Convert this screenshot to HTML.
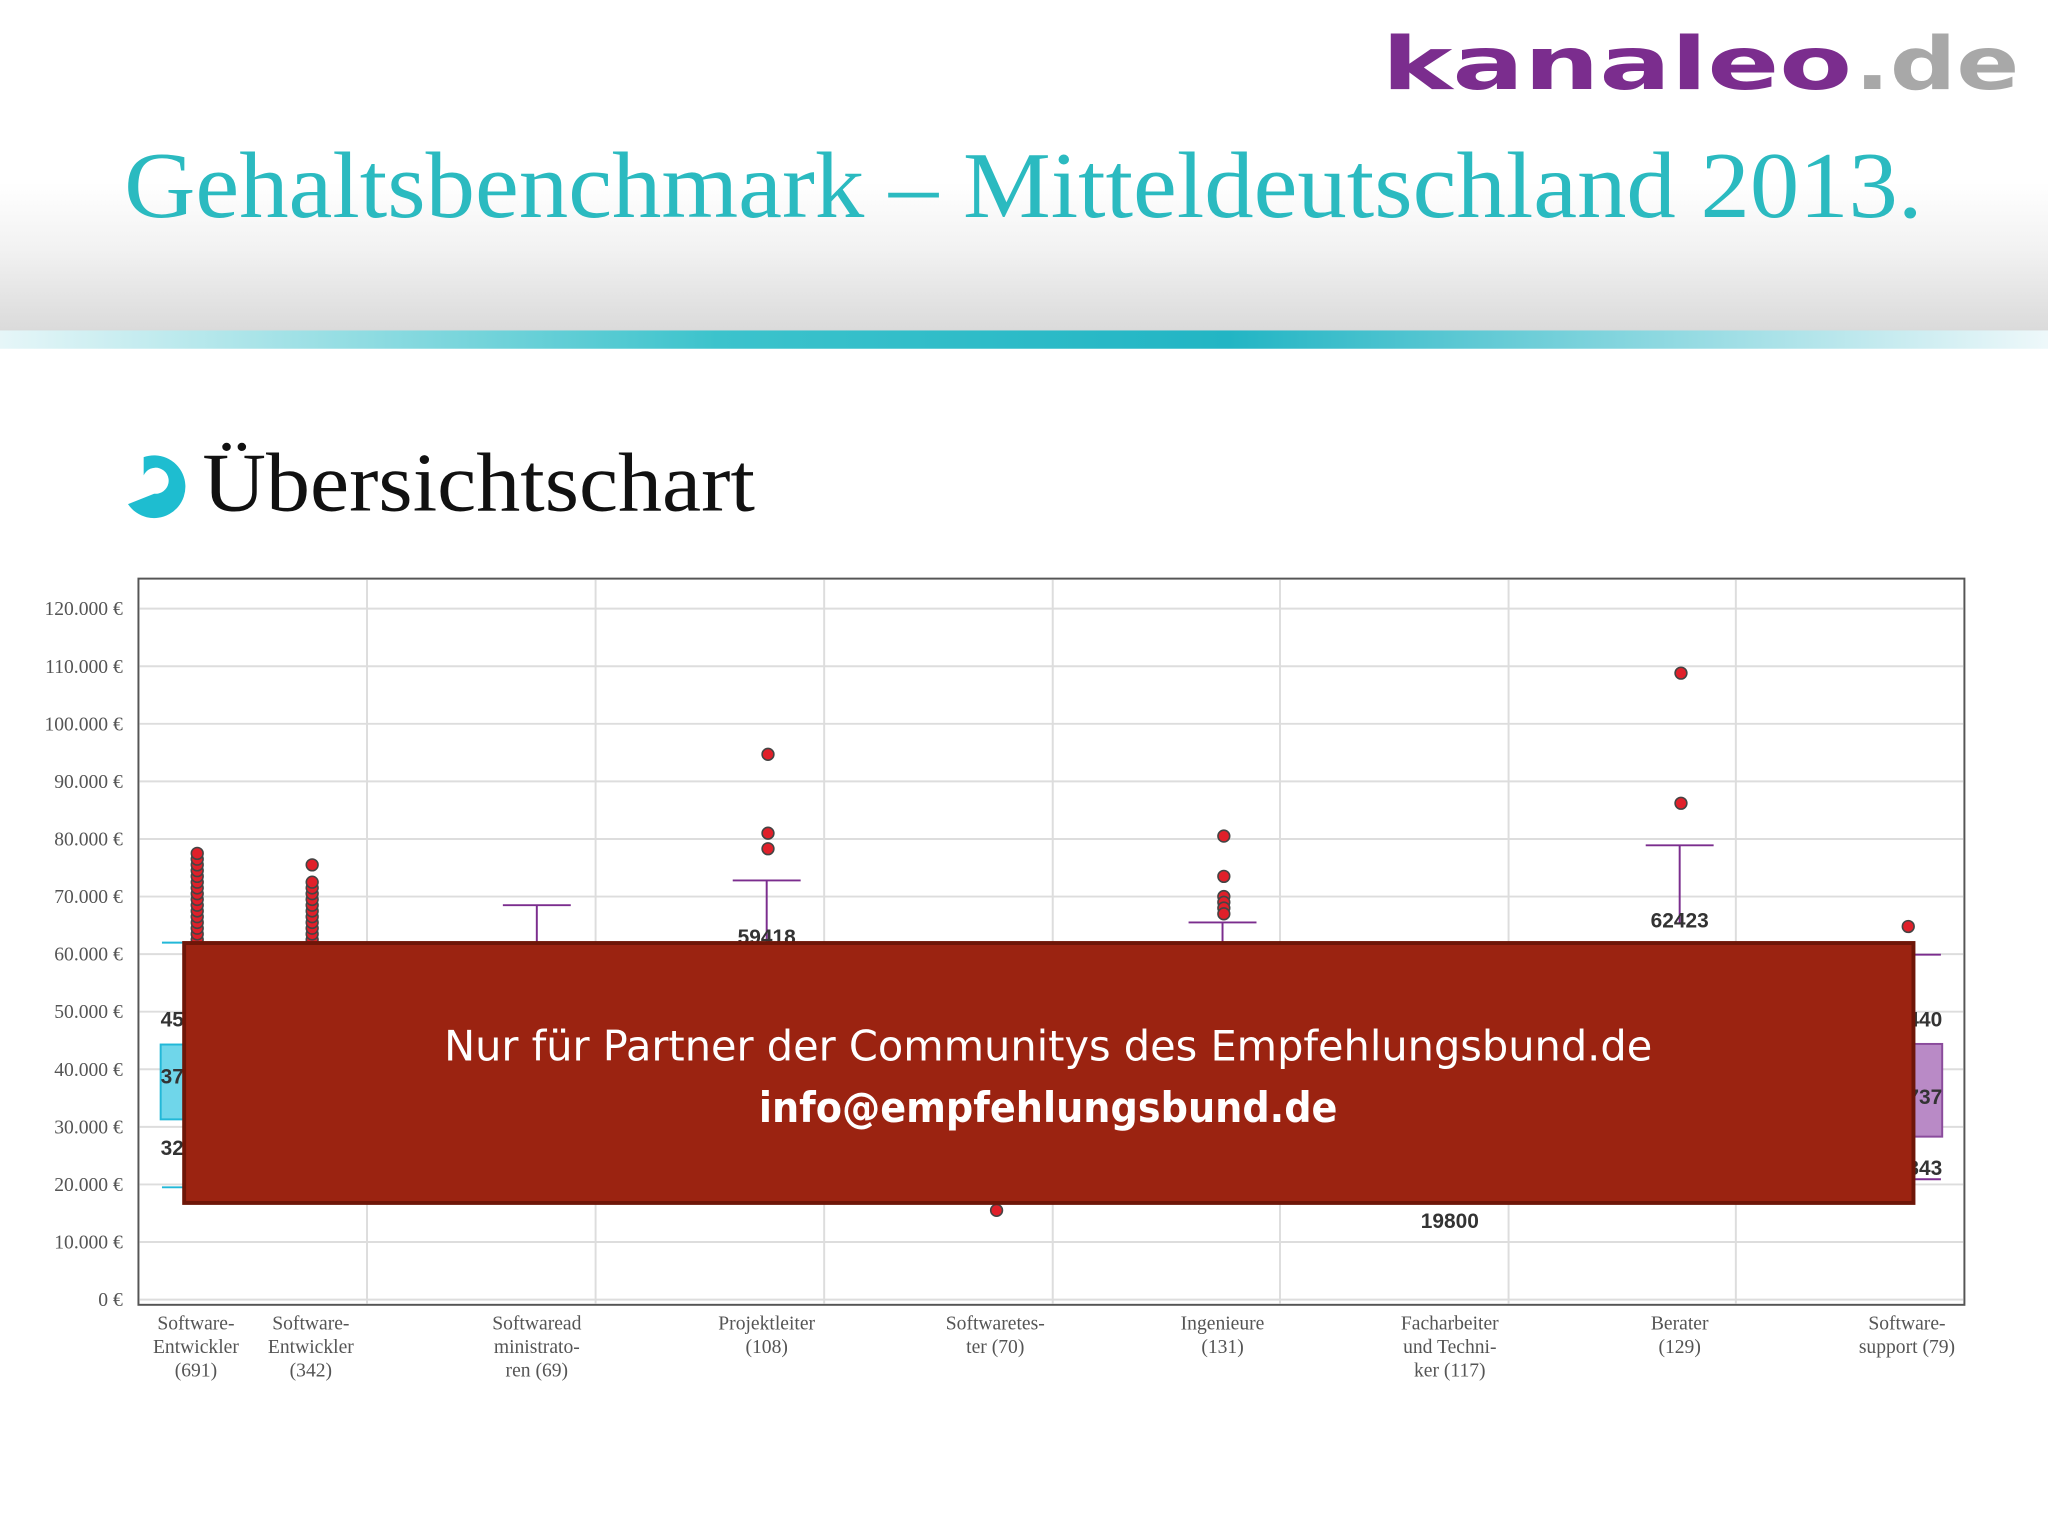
<!DOCTYPE html>
<html><head><meta charset="utf-8"><style>
html,body{margin:0;padding:0;background:#fff}
svg{display:block}
</style></head><body>
<svg id="s" width="2048" height="1536" viewBox="0 0 1568 1176" xmlns="http://www.w3.org/2000/svg">
<defs>
<linearGradient id="hdr" x1="0" y1="0" x2="0" y2="1">
<stop offset="0" stop-color="#ffffff"/><stop offset="0.55" stop-color="#ffffff"/><stop offset="0.75" stop-color="#f2f2f2"/><stop offset="1" stop-color="#dadada"/>
</linearGradient>
<linearGradient id="bar" x1="0" y1="0" x2="1" y2="0">
<stop offset="0" stop-color="#e6f6f8"/><stop offset="0.35" stop-color="#3cc3cc"/><stop offset="0.6" stop-color="#22b5c4"/><stop offset="1" stop-color="#eef8fa"/>
</linearGradient>
</defs>
<rect x="0" y="0" width="1568" height="254" fill="url(#hdr)"/>
<rect x="0" y="253" width="1568" height="14" fill="url(#bar)"/>
<g>
<text x="1058" y="68" font-family="'DejaVu Sans','Liberation Sans',sans-serif" font-weight="bold" font-size="56" fill="#7b2d8e" textLength="360" lengthAdjust="spacingAndGlyphs">kanaleo</text>
<text x="1420" y="68" font-family="'DejaVu Sans','Liberation Sans',sans-serif" font-weight="bold" font-size="56" fill="#a8a8a8" textLength="126" lengthAdjust="spacingAndGlyphs">.de</text>
</g>
<text x="95" y="166" font-family="'Liberation Serif',serif" font-size="72" fill="#2bbac0" textLength="1377" lengthAdjust="spacingAndGlyphs">Gehaltsbenchmark – Mitteldeutschland 2013.</text>
<path d="M110 350 A24 24 0 1 1 98 386 L118 378 A10 10 0 1 0 110 364 Z" fill="#1ebdd0"/>
<text x="155" y="391" font-family="'Liberation Serif',serif" font-size="64" fill="#111" textLength="423" lengthAdjust="spacingAndGlyphs">Übersichtschart</text>
<g id="chart"></g>
<g>
<rect x="141" y="722" width="1324" height="199" fill="#9b2311" stroke="#6e1608" stroke-width="3"/>
<text x="340" y="812" font-family="'DejaVu Sans','Liberation Sans',sans-serif" font-size="32" fill="#fff" textLength="925" lengthAdjust="spacingAndGlyphs">Nur für Partner der Communitys des Empfehlungsbund.de</text>
<text x="581" y="859" font-family="'DejaVu Sans','Liberation Sans',sans-serif" font-weight="bold" font-size="32" fill="#fff" textLength="443" lengthAdjust="spacingAndGlyphs">info@empfehlungsbund.de</text>
</g>
</svg>
<script>
const categories = [["Software-","Entwickler","(691)"],["Software-","Entwickler","(342)"],["Softwaread","ministrato-","ren (69)"],["Projektleiter","(108)"],["Softwaretes-","ter (70)"],["Ingenieure","(131)"],["Facharbeiter","und Techni-","ker (117)"],["Berater","(129)"],["Software-","support (79)"]];
const catX = [150,238,411,587,762,936,1110,1286,1460];
const yTicks = [0,10000,20000,30000,40000,50000,60000,70000,80000,90000,100000,110000,120000];
const whiskerHigh = [62000,null,68500,72800,null,65500,null,78900,59900];
const whiskerLow = [19500,null,null,null,null,null,null,null,20900];
const boxQ3 = [44300,null,null,null,null,null,null,null,44400];
const boxQ1 = [31300,null,null,null,null,null,null,null,28300];
const boxColor = ["#6fd6ea",null,null,null,null,null,null,null,"#b98ac6"];
const outliers = [
 [62500,63500,64500,65500,66500,67500,68500,69500,70500,71500,72500,73500,74500,75500,76500,77500],
 [62500,63500,64500,65500,66500,67500,68500,69500,70500,71500,72500,75500],
 [],[94700,81000,78300],[15500],[80500,73500,70000,69000,68000,67000],[],[108800,86200],[64800]];
const labelTexts = [[["45123",48800],["37111",38900],["32000",26500]],[],[],[["59418",63100]],[],[],[["19800",13800]],[["62423",66000]],[["45440",48800],["36737",35300],["24343",23000]]];
const labelAnchor = ["start","middle","middle","middle","middle","middle","middle","middle","end"];
const svg=document.getElementById('chart');const NS='http://www.w3.org/2000/svg';
const y=v=>995-v*529/120000;
function mk(t,a,p){const e=document.createElementNS(NS,t);for(const k in a)e.setAttribute(k,a[k]);(p||svg).appendChild(e);return e;}
let e=mk('rect',{x:106,y:443,width:1398,height:556,fill:'#fff',stroke:'#555','stroke-width':1.5});

yTicks.forEach(v=>{const l=mk('line',{x1:107,x2:1503,y1:y(v),y2:y(v),stroke:'#ddd','stroke-width':1.5});

const t=mk('text',{x:94,y:y(v)+5,'text-anchor':'end','font-family':"'Liberation Serif',serif",'font-size':15,fill:'#555'});
t.textContent=(v===0?'0':v.toLocaleString('de-DE'))+' €';
});
[281,456,631,806,980,1155,1329].forEach(x=>{const l=mk('line',{x1:x,x2:x,y1:444,y2:998,stroke:'#ddd','stroke-width':1.5});
});
categories.forEach((c,i)=>{const x=catX[i];
 if(boxQ3[i]!=null){const b=mk('rect',{x:x-27,y:y(boxQ3[i]),width:54,height:y(boxQ1[i])-y(boxQ3[i]),fill:boxColor[i],stroke:i===0?'#22b8d8':'#8a4b9c','stroke-width':1.5});
 }
 const wc=i===0?'#22b8d8':'#7b2d8e';
 if(whiskerHigh[i]!=null){const w=mk('path',{d:`M${x-26} ${y(whiskerHigh[i])}H${x+26}M${x} ${y(whiskerHigh[i])}V${y(whiskerHigh[i])+60}`,stroke:wc,'stroke-width':1.5,fill:'none'});
 }
 if(whiskerLow[i]!=null){const w=mk('path',{d:`M${x-26} ${y(whiskerLow[i])}H${x+26}`,stroke:wc,'stroke-width':1.5});
 }
 outliers[i].forEach(v=>{const d=mk('circle',{cx:x+1,cy:y(v),r:4.5,fill:'#e0202a',stroke:'#444','stroke-width':1.2});
 });
 const lx=labelAnchor[i]==='start'?x-27:labelAnchor[i]==='end'?x+27:x;
 labelTexts[i].forEach(([s,v])=>{const t=mk('text',{x:lx,y:y(v)+6,'text-anchor':labelAnchor[i],'font-family':"'Liberation Sans',sans-serif",'font-weight':'bold','font-size':16,fill:'#333'});t.textContent=s;
 });
 c.forEach((s,j)=>{const t=mk('text',{x:x,y:1018+j*18,'text-anchor':'middle','font-family':"'Liberation Serif',serif",'font-size':15,fill:'#555'});t.textContent=s;
 });
});
</script>
</body></html>
